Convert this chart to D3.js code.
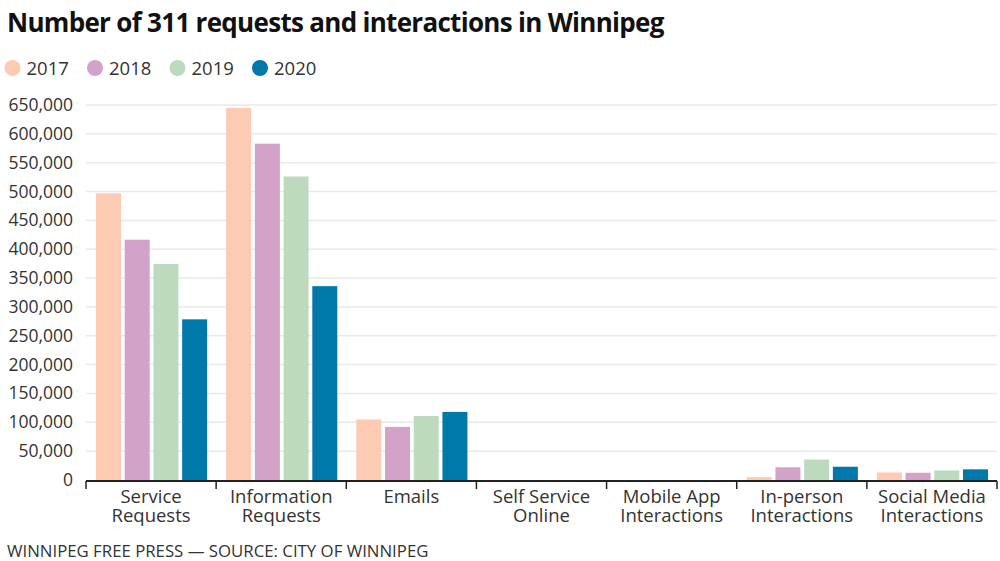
<!DOCTYPE html>
<html>
<head>
<meta charset="utf-8">
<script src="https://cdn.jsdelivr.net/npm/d3@7"></script>
<style>
  body { margin: 0; background: #fff; }
  svg { font-family: "Open Sans", sans-serif; }
</style>
</head>
<body>
<svg id="chart" width="1000" height="561"></svg>
<script>
// categories and series
const categories = [
  ['Service', 'Requests'],
  ['Information', 'Requests'],
  ['Emails'],
  ['Self Service', 'Online'],
  ['Mobile App', 'Interactions'],
  ['In-person', 'Interactions'],
  ['Social Media', 'Interactions']
]
const years = ['2017', '2018', '2019', '2020']
const values_2017 = [497000, 645000, 105000, 0, 0, 5000, 13000]
const values_2018 = [416500, 583000, 92000, 0, 0, 22000, 12500]
const values_2019 = [374500, 526000, 111000, 0, 0, 35500, 16500]
const values_2020 = [278500, 336000, 118000, 0, 0, 23000, 18500]
const y_ticks = [0, 50000, 100000, 150000, 200000, 250000, 300000, 350000,
  400000, 450000, 500000, 550000, 600000, 650000]

const series = [values_2017, values_2018, values_2019, values_2020]
const colors = ['#fdcab3', '#d3a2c9', '#bddabf', '#0078a9']

const margin = { top: 105, left: 86, right: 3, bottom: 81 }
const width = 1000
const height = 561

const svg = d3.select('#chart')

const x0 = d3.scaleBand()
  .domain(categories.map((d, i) => i))
  .range([margin.left, width - margin.right])
  .padding(0)

const x1 = d3.scaleBand()
  .domain(years)
  .range([10, x0.bandwidth() - 9])
  .paddingInner(0.13)

const y = d3.scaleLinear()
  .domain([0, 650000])
  .range([height - margin.bottom, margin.top])

// title
svg.append('text')
  .attr('x', 7)
  .attr('y', 32)
  .attr('font-size', '26px')
  .attr('font-weight', 700)
  .attr('letter-spacing', '-0.7px')
  .attr('fill', '#111')
  .text('Number of 311 requests and interactions in Winnipeg')

// legend
const legend = svg.append('g')
  .selectAll('g')
  .data(years)
  .join('g')
  .attr('transform', (d, i) => 'translate(' + (12.5 + i * 82.5) + ',68)')

legend.append('circle')
  .attr('r', 8)
  .attr('fill', (d, i) => colors[i])

legend.append('text')
  .attr('x', 14)
  .attr('y', 6.5)
  .attr('font-size', '18.5px')
  .attr('fill', '#333')
  .text(d => d)

// grid
svg.append('g')
  .selectAll('line')
  .data(y_ticks.slice(1))
  .join('line')
  .attr('x1', margin.left)
  .attr('x2', width - margin.right)
  .attr('y1', d => y(d))
  .attr('y2', d => y(d))
  .attr('stroke', '#e9e9e9')
  .attr('stroke-width', 1.5)

// y axis labels
svg.append('g')
  .selectAll('text')
  .data(y_ticks)
  .join('text')
  .attr('x', 73)
  .attr('y', d => y(d) + 6)
  .attr('text-anchor', 'end')
  .attr('font-size', '17.5px')
  .attr('fill', '#333')
  .text(d => d3.format(',')(d))

// bars
const groups = svg.append('g')
  .selectAll('g')
  .data(categories.map((c, i) => i))
  .join('g')
  .attr('transform', d => 'translate(' + x0(d) + ',0)')

groups.selectAll('rect')
  .data(ci => series.map((s, si) => ({ year: years[si], value: s[ci], si: si })))
  .join('rect')
  .attr('x', d => x1(d.year))
  .attr('width', x1.bandwidth())
  .attr('y', d => y(d.value))
  .attr('height', d => y(0) - y(d.value))
  .attr('fill', d => colors[d.si])

// x axis
const axisY = y(0) + 1
svg.append('line')
  .attr('x1', margin.left)
  .attr('x2', width - margin.right)
  .attr('y1', axisY)
  .attr('y2', axisY)
  .attr('stroke', '#222')
  .attr('stroke-width', 2)

const tickXs = categories.map((c, i) => x0(i)).concat([x0(categories.length - 1) + x0.bandwidth()])
svg.append('g')
  .selectAll('line')
  .data(tickXs)
  .join('line')
  .attr('x1', d => d)
  .attr('x2', d => d)
  .attr('y1', axisY)
  .attr('y2', axisY + 8)
  .attr('stroke', '#222')
  .attr('stroke-width', 1.5)

// category labels, one text per line
const labelLines = []
categories.forEach((c, i) => c.forEach((line, li) => labelLines.push({ i: i, li: li, text: line })))

svg.append('g')
  .selectAll('text')
  .data(labelLines)
  .join('text')
  .attr('x', d => x0(d.i) + x0.bandwidth() / 2)
  .attr('y', d => 503 + d.li * 19)
  .attr('text-anchor', 'middle')
  .attr('font-size', '18.5px')
  .attr('fill', '#333')
  .text(d => d.text)

// footer
svg.append('text')
  .attr('x', 7)
  .attr('y', 557)
  .attr('font-size', '16.8px')
  .attr('fill', '#333')
  .text('WINNIPEG FREE PRESS — SOURCE: CITY OF WINNIPEG')
</script>
</body>
</html>
